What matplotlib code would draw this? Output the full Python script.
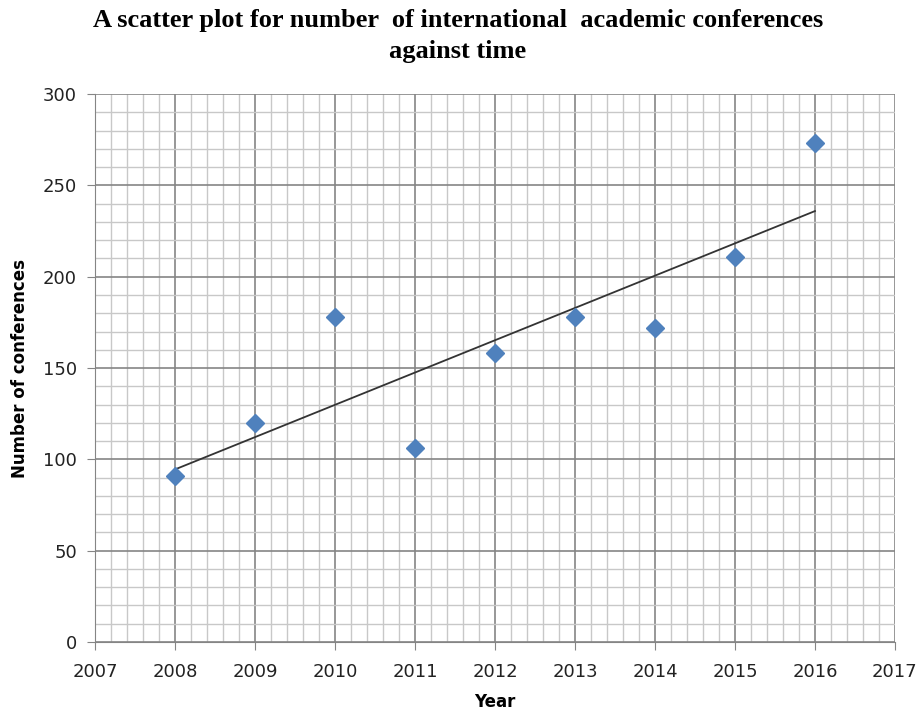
import matplotlib.pyplot as plt
import numpy as np

years = [2008, 2009, 2010, 2011, 2012, 2013, 2014, 2015, 2016]
conferences = [91, 120, 178, 106, 158, 178, 172, 211, 273]

fig = plt.figure(figsize=(9.16, 7.13), dpi=100)
ax = fig.add_axes([0.1037, 0.0996, 0.8733, 0.7684])

# grille facon tableur
ax.set_xlim(2007, 2017)
ax.set_ylim(0, 300)
ax.set_xticks(np.arange(2007, 2018, 1))
ax.set_yticks(np.arange(0, 301, 50))
ax.set_xticks(np.arange(2007, 2017.01, 0.2), minor=True)
ax.set_yticks(np.arange(0, 301, 10), minor=True)
ax.grid(which='major', color='#858585', linewidth=1.2)
ax.grid(which='minor', color='#c8c8c8', linewidth=1.0)
ax.set_axisbelow(True)
ax.tick_params(which='minor', length=0)
ax.tick_params(which='major', length=6, color='#858585', labelsize=13,
               labelcolor='#222222')
ax.tick_params(axis='x', pad=9)
ax.tick_params(axis='y', pad=7)
for s in ['top', 'right']:
    ax.spines[s].set_visible(False)
ax.spines['left'].set_color('#858585')
ax.spines['bottom'].set_color('#858585')

ax.plot(years, conferences, 'D', color='#4F81BD', markersize=9, zorder=3)

# droite de tendance
a, b = np.polyfit(years, conferences, 1)
xt = np.array([years[0], years[-1]])
ax.plot(xt, a * xt + b, color='#333333', linewidth=1.3, zorder=2)

ax.set_xlabel('Year', fontsize=12, fontweight='bold', labelpad=9)
ax.set_ylabel('Number of conferences', fontsize=12, fontweight='bold', labelpad=10)
fig.suptitle('A scatter plot for number  of international  academic conferences\nagainst time',
             family='Liberation Serif', fontweight='bold', fontsize=19, y=0.988,
             linespacing=1.45)

fig.savefig('out.png')
